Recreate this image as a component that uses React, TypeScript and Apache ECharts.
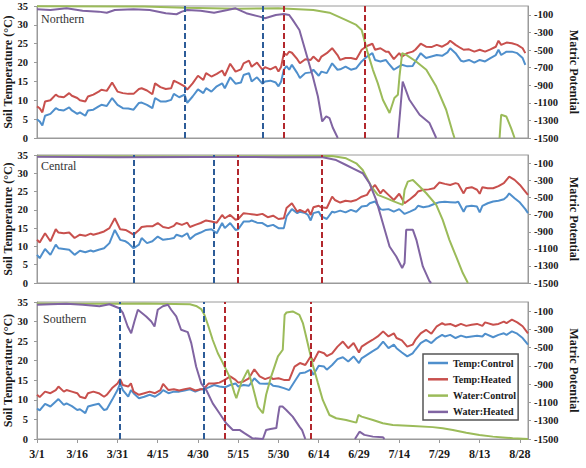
import { useEffect, useRef } from 'react';
import * as echarts from 'echarts';

// ---- axis ticks ----
const xTickDays = [0, 15, 30, 45, 60, 75, 90, 105, 120, 135, 150, 165, 180];
const xTickLabels = ['3/1', '3/16', '3/31', '4/15', '4/30', '5/15', '5/30', '6/14', '6/29', '7/14', '7/29', '8/13', '8/28'];
const matricTicks = [-1500, -1300, -1100, -900, -700, -500, -300, -100];
const legendNames = ['Temp:Control', 'Temp:Heated', 'Water:Control', 'Water:Heated'];

// ---- Northern site ----
const northDays = [
  0, 1, 2, 3, 5, 7, 8, 10, 12, 13,
  15, 16, 18, 19, 21, 23, 24, 26, 28, 30,
  32, 34, 36, 38, 39, 41, 43, 44, 46, 48,
  50, 51, 53, 55, 56, 58, 60, 62, 63, 65,
  67, 69, 70, 72, 74, 76, 77, 79, 80, 82,
  84, 85, 87, 89, 90, 91, 92, 93, 94, 95,
  97, 98, 100, 102, 103, 105, 106, 108, 110, 112,
  113, 115, 117, 119, 121, 123, 125, 126, 128, 130,
  131, 133, 135, 136, 138, 140, 141, 143, 145, 147,
  149, 151, 153, 154, 156, 158, 159, 161, 163, 165,
  167, 169, 171, 172, 173, 175, 177, 179, 181, 182,
];
const northTempControl = [
  5.0, 4.4, 3.3, 5.9, 6.4, 7.9, 7.5, 7.3, 8.1, 7.3,
  6.4, 6.8, 5.9, 7.3, 7.5, 8.4, 8.8, 8.5, 10.6, 8.8,
  7.9, 7.8, 7.5, 9.3, 9.4, 8.8, 7.9, 10.6, 9.7, 9.7,
  10.1, 11.7, 10.8, 11.5, 9.3, 11.0, 12.9, 11.9, 13.2, 12.3,
  13.7, 14.5, 13.2, 16.1, 14.4, 14.7, 16.7, 17.2, 15.0, 16.1,
  14.4, 15.0, 15.2, 14.7, 13.7, 15.0, 18.1, 19.1, 18.1, 19.4,
  17.2, 15.9, 17.2, 17.4, 18.1, 16.5, 17.6, 17.2, 19.8, 18.1,
  18.2, 18.9, 18.1, 18.5, 20.3, 21.6, 22.5, 20.7, 20.3, 20.7,
  19.8, 18.1, 19.0, 19.4, 19.0, 19.1, 20.3, 22.5, 21.2, 21.6,
  22.0, 21.8, 22.7, 23.8, 22.5, 20.5, 20.3, 20.7, 20.0, 20.7,
  20.3, 21.2, 22.0, 23.4, 22.0, 22.9, 22.9, 22.5, 21.2, 19.4,
];
const northTempHeated = [
  8.4, 7.9, 6.8, 9.7, 10.0, 11.5, 11.0, 10.8, 11.9, 11.2,
  10.6, 10.0, 9.7, 11.0, 11.5, 12.3, 12.8, 12.5, 14.7, 12.3,
  11.9, 11.7, 11.7, 13.0, 13.2, 12.6, 11.6, 14.5, 13.5, 13.0,
  13.2, 15.2, 14.5, 13.7, 12.8, 14.5, 16.5, 15.4, 17.2, 16.3,
  17.0, 17.9, 16.5, 19.7, 17.6, 18.2, 19.8, 20.5, 18.9, 20.0,
  18.1, 18.8, 18.2, 18.9, 17.6, 18.9, 22.5, 22.0, 22.9, 22.6,
  20.9, 19.8, 20.9, 20.7, 21.6, 20.3, 21.6, 22.5, 23.8, 22.0,
  20.7, 21.2, 21.2, 20.9, 23.4, 24.4, 25.0, 23.4, 23.8, 22.9,
  22.9, 20.9, 22.5, 21.6, 22.5, 22.9, 23.4, 25.0, 24.2, 24.1,
  24.7, 24.2, 25.0, 25.8, 24.7, 23.8, 23.4, 23.5, 22.9, 23.4,
  22.9, 23.5, 24.2, 25.8, 24.7, 25.3, 25.1, 24.7, 23.8, 22.5,
];
// [day, matric potential]; null = below the axis range
const northWaterControl = [
  [0, -3], [40, -5], [55, -20], [75, -30], [90, -25], [103, -45], [109, -76], [115, -158],
  [119, -215], [121, -272], [122, -385], [123.3, -536], [125.2, -725], [127, -876],
  [128.9, -1066], [131.4, -1216], [133.2, -1046], [134.5, -1009], [135.1, -801],
  [136.1, -536], [137.6, -556], [141.3, -631], [145.1, -725], [148.8, -915],
  [152.5, -1179], [155, -1443], [155.6, -1500], [164, null], [172.4, -1500],
  [173, -1236], [174.9, -1255], [176.7, -1387], [178, -1500],
];
const northWaterHeated = [
  [0, -37], [5, -45], [11, -26], [17, -53], [23, -64], [26, -76], [29, -45], [36, -37],
  [42, -45], [48, -82], [52, -94], [54, -64], [56, -45], [61, -53], [66, -76], [71, -45],
  [74, -26], [78, -82], [83, -121], [85, -139], [89, -102], [92, -90], [94, -102],
  [95.3, -158], [97.8, -272], [100.3, -536], [102.8, -801], [104.7, -1028], [106.3, -1312],
  [107.8, -1255], [109, -1273], [110.3, -1387], [112.1, -1500], [120, null],
  [134.5, -1500], [136.3, -858], [138.8, -1066], [142.6, -1236], [146.3, -1330], [148.8, -1500],
];
const northControlMarks = [55, 84];
const northHeatedMarks = [92, 122];

// ---- Central site ----
const centralDays = [
  0, 1, 3, 5, 7, 8, 10, 12, 14, 16,
  18, 20, 21, 23, 25, 27, 29, 31, 33, 34,
  36, 38, 39, 41, 43, 45, 47, 49, 51, 52,
  54, 56, 57, 59, 61, 63, 65, 67, 69, 70,
  72, 74, 75, 77, 79, 80, 82, 84, 86, 88,
  90, 92, 93, 95, 97, 98, 100, 101, 102, 103,
  105, 106, 108, 110, 111, 113, 115, 117, 119, 121,
  123, 124, 126, 128, 129, 131, 133, 135, 137, 139,
  141, 142, 144, 146, 148, 150, 152, 154, 156, 157,
  159, 160, 162, 164, 165, 166, 168, 170, 172, 174,
  175, 176, 178, 180, 182, 183,
];
const centralTempControl = [
  7.7, 6.8, 9.3, 7.7, 10.5, 9.5, 9.3, 9.1, 7.7, 8.8,
  8.4, 8.9, 8.6, 9.1, 9.5, 10.9, 14.5, 11.8, 11.4, 10.9,
  9.5, 10.5, 12.3, 10.9, 11.4, 12.7, 11.8, 12.0, 12.3, 13.2,
  12.7, 13.6, 12.0, 13.2, 13.8, 14.5, 14.7, 13.6, 16.4, 15.0,
  16.4, 14.5, 14.7, 16.8, 16.8, 17.1, 16.5, 16.4, 15.5, 15.9,
  15.0, 15.0, 18.2, 20.2, 19.1, 19.5, 19.1, 18.6, 17.1, 19.1,
  19.5, 18.2, 17.5, 19.5, 19.3, 19.8, 19.3, 20.0, 19.5, 20.9,
  21.1, 21.8, 22.3, 20.2, 20.0, 20.2, 19.5, 20.2, 18.9, 19.5,
  20.2, 21.1, 20.7, 21.0, 21.6, 22.1, 22.2, 22.1, 22.0, 22.2,
  19.5, 20.9, 21.1, 20.9, 19.3, 21.1, 21.8, 22.3, 22.5, 22.9,
  23.5, 24.5, 23.2, 22.0, 20.2, 19.1,
];
const centralTempHeated = [
  11.8, 11.1, 13.6, 11.4, 14.7, 13.8, 13.6, 13.8, 12.3, 13.2,
  12.9, 13.5, 13.2, 13.6, 14.1, 15.0, 17.7, 14.7, 14.5, 14.1,
  13.2, 14.5, 15.3, 15.5, 15.5, 16.4, 15.3, 15.0, 15.6, 16.4,
  15.9, 16.5, 15.3, 15.9, 16.4, 17.1, 16.8, 16.5, 18.6, 17.7,
  18.6, 17.3, 17.5, 19.1, 18.9, 18.8, 18.6, 18.9, 18.0, 18.4,
  17.5, 17.7, 20.5, 21.8, 19.5, 20.0, 19.3, 20.2, 18.6, 20.7,
  21.1, 20.7, 20.5, 23.6, 22.7, 22.0, 22.5, 22.3, 22.7, 23.6,
  24.1, 25.3, 26.8, 24.5, 25.5, 24.1, 22.7, 24.4, 21.8, 22.9,
  24.1, 25.0, 25.5, 25.6, 25.9, 27.5, 27.1, 26.8, 27.3, 27.1,
  24.5, 25.9, 26.2, 25.5, 24.4, 26.2, 25.9, 25.9, 26.5, 27.3,
  28.2, 29.1, 28.2, 26.8, 25.0, 24.1,
];
const centralWaterControl = [
  [0, -15], [30, -15], [60, -18], [90, -15], [110, -12], [115.2, -39], [119, -97],
  [121.4, -175], [124.6, -370], [127, -468], [130.1, -506], [133.2, -546], [136.3, -585],
  [137, -409], [138.2, -312], [140.1, -292], [142.6, -370], [145.1, -448], [148.8, -585],
  [151.2, -760], [153.7, -994], [156.2, -1189], [158.7, -1383], [160.6, -1500],
];
const centralWaterHeated = [
  [0, -20], [30, -25], [60, -22], [90, -25], [106.5, -27], [111.5, -59], [115.2, -117],
  [117.7, -156], [121.4, -214], [123.9, -331], [126.4, -526], [128.9, -799], [131.4, -1072],
  [133.9, -1189], [136.1, -1325], [137, -1266], [137.6, -877], [140.1, -877], [141.4, -994],
  [143.8, -1306], [146.3, -1480], [146.9, -1500],
];
const centralControlMarks = [36, 66];
const centralHeatedMarks = [75, 106];

// ---- Southern site ----
const southDays = [
  0, 1, 3, 5, 7, 8, 10, 11, 13, 15,
  16, 18, 19, 21, 23, 25, 26, 28, 30, 31,
  32, 34, 35, 36, 38, 40, 42, 44, 46, 47,
  49, 51, 53, 55, 57, 59, 61, 62, 64, 66,
  68, 70, 72, 74, 75, 77, 79, 81, 83, 85,
  87, 88, 90, 92, 94, 96, 98, 100, 102, 103,
  105, 107, 108, 110, 112, 114, 116, 118, 120, 121,
  123, 125, 127, 129, 131, 133, 134, 136, 138, 140,
  141, 143, 145, 147, 149, 151, 152, 154, 156, 158,
  160, 162, 164, 166, 167, 170, 172, 174, 175, 177,
  179, 181, 183,
];
const southTempControl = [
  7.8, 7.3, 9.0, 8.3, 9.6, 10.2, 8.7, 9.1, 8.4, 7.4,
  7.6, 6.6, 8.3, 8.7, 9.0, 7.4, 7.6, 10.0, 12.5, 14.2,
  12.5, 10.8, 12.5, 11.7, 10.4, 10.8, 11.3, 10.8, 11.7, 12.5,
  11.7, 12.1, 12.1, 12.4, 12.7, 12.1, 12.7, 12.7, 13.2, 13.8,
  13.4, 13.2, 13.8, 14.2, 13.4, 13.8, 13.6, 15.5, 14.2, 14.1,
  14.2, 13.6, 13.4, 13.0, 12.5, 14.7, 16.8, 17.0, 17.7, 16.4,
  18.7, 18.5, 17.7, 18.9, 20.4, 20.9, 19.8, 21.1, 19.4, 20.6,
  21.5, 22.4, 23.2, 24.9, 23.2, 24.1, 23.2, 22.1, 21.1, 21.9,
  22.8, 24.5, 25.3, 24.5, 25.8, 26.6, 26.2, 26.6, 25.8, 26.4,
  26.0, 26.2, 26.4, 26.2, 26.9, 26.0, 26.6, 27.0, 26.6, 27.5,
  26.9, 25.8, 24.1,
];
const southTempHeated = [
  11.3, 10.7, 12.1, 11.7, 12.5, 13.4, 12.1, 12.5, 12.1, 11.7,
  10.8, 10.4, 11.7, 12.1, 11.7, 10.8, 11.3, 13.0, 14.2, 15.3,
  13.8, 13.4, 14.2, 12.1, 11.3, 11.7, 12.1, 11.7, 12.5, 14.1,
  12.5, 12.7, 12.4, 12.7, 13.0, 12.4, 12.7, 12.7, 14.2, 14.2,
  14.4, 15.1, 16.0, 15.1, 14.4, 14.7, 15.5, 17.8, 16.0, 15.3,
  15.8, 15.3, 15.5, 15.1, 15.1, 18.5, 19.4, 18.9, 21.1, 19.8,
  22.4, 21.9, 21.2, 21.9, 23.6, 24.9, 23.2, 24.5, 22.1, 23.6,
  24.5, 25.3, 26.2, 27.5, 26.2, 27.0, 25.8, 25.2, 23.6, 24.1,
  25.3, 27.0, 27.9, 26.9, 28.8, 29.6, 29.2, 29.4, 28.8, 29.4,
  28.9, 29.2, 29.4, 28.9, 29.8, 29.2, 29.4, 30.0, 29.6, 30.5,
  29.8, 28.8, 27.0,
];
const southWaterControl = [
  [0, -17], [20, -20], [40, -17], [57, -25], [59.3, -43], [61.2, -77], [62.4, -141],
  [63.7, -249], [65.5, -416], [67.4, -561], [69.3, -669], [71.7, -814], [73.6, -998],
  [74.3, -1054], [76.1, -887], [78.6, -743], [80.4, -926], [82.3, -1145], [84.2, -1218],
  [85.4, -1016], [87.3, -814], [89.8, -596], [91.6, -523], [92.3, -140], [93, -115],
  [95.3, -103], [97.8, -141], [99.1, -231], [100.3, -377], [101.6, -541], [102.8, -689],
  [104.7, -888], [106.5, -1072], [109, -1237], [111.5, -1273], [115.2, -1292], [119, -1321],
  [119.8, -1237], [121, -1255], [125.2, -1292], [128.9, -1328], [132.6, -1346], [140.1, -1357],
  [147.5, -1370], [151.2, -1383], [155, -1401], [160, -1431], [164.9, -1456], [169.9, -1474],
  [174.9, -1486], [177.3, -1492], [183, -1500],
];
const southWaterHeated = [
  [0, -30], [5, -25], [10.9, -19], [17.1, -30], [23.3, -47], [27, -25], [30.7, -68], [32, -120],
  [33.8, -268], [35.1, -343], [36.3, -214], [37.6, -85], [40.7, -158], [42.6, -214],
  [43.8, -268], [45, -85], [46.9, -47], [48.8, -30], [50, -85], [51.9, -158], [53.7, -304],
  [56.2, -330], [57.5, -450], [59.3, -707], [61.2, -890], [63.1, -964], [65.5, -1110],
  [68, -1218], [70.5, -1328], [73, -1401], [75.5, -1401], [77.3, -1436], [80.2, -1491],
  [84.2, -1500], [85.4, -1401], [87, -1390], [89.2, -1380], [89.8, -1255], [90.4, -1145],
  [91.5, -1145], [92.9, -1183], [95.3, -1255], [97.8, -1364], [98.8, -1403], [100, -1500],
  [110, null], [118.5, -1500], [120.2, -1420], [122, -1455], [125.2, -1474], [128.9, -1480],
  [129.5, -1500],
];
const southControlMarks = [31, 62];
const southHeatedMarks = [70, 102];

const FONT = "'Liberation Serif', 'Times New Roman', serif";
const COLORS = {
  tempControl: '#4F8FCC',
  tempHeated: '#C8504D',
  waterControl: '#9BBB59',
  waterHeated: '#8064A2',
  markControl: '#2D5C98',
  markHeated: '#B2282D',
  axis: '#9a9a9a',
  text: '#1a1a1a',
};

const panels = [
  {
    label: 'Northern', days: northDays, control: northTempControl, heated: northTempHeated,
    waterControl: northWaterControl, waterHeated: northWaterHeated,
    controlMarks: northControlMarks, heatedMarks: northHeatedMarks,
  },
  {
    label: 'Central', days: centralDays, control: centralTempControl, heated: centralTempHeated,
    waterControl: centralWaterControl, waterHeated: centralWaterHeated,
    controlMarks: centralControlMarks, heatedMarks: centralHeatedMarks,
  },
  {
    label: 'Southern', days: southDays, control: southTempControl, heated: southTempHeated,
    waterControl: southWaterControl, waterHeated: southWaterHeated,
    controlMarks: southControlMarks, heatedMarks: southHeatedMarks,
  },
];

const gridBoxes = [
  { top: 6, height: 132, labelX: 41, labelY: 19 },
  { top: 155, height: 128, labelX: 41, labelY: 166 },
  { top: 302, height: 137, labelX: 43, labelY: 319 },
];

const pairs = (days: number[], vals: number[]) => days.map((d, i) => [d, vals[i]]);

function buildOption() {
  const grid = gridBoxes.map((b) => ({
    left: 37,
    width: 491,
    top: b.top,
    height: b.height,
    containLabel: false,
    outerBoundsMode: 'none',
    show: true,
    borderColor: COLORS.axis,
    borderWidth: 1,
    backgroundColor: 'transparent',
  }));

  const xAxis = gridBoxes.map((_, i) => ({
    type: 'value',
    gridIndex: i,
    min: 0,
    max: 183,
    axisLine: { show: true, onZero: false, lineStyle: { color: COLORS.axis, width: 1 } },
    axisTick: { show: i === 2, customValues: xTickDays, length: 4, lineStyle: { color: COLORS.axis } },
    axisLabel: {
      show: i === 2,
      customValues: xTickDays,
      formatter: (v: number) => xTickLabels[xTickDays.indexOf(v)] ?? '',
      fontFamily: FONT,
      fontWeight: 'bold',
      fontSize: 12,
      color: COLORS.text,
      margin: 9,
    },
    splitLine: { show: false },
  }));

  const yAxis: any[] = [];
  gridBoxes.forEach((_, i) => {
    yAxis.push({
      type: 'value',
      gridIndex: i,
      position: 'left',
      min: 0,
      max: 35,
      interval: 5,
      name: 'Soil Temperature (°C)',
      nameLocation: 'middle',
      nameRotate: 90,
      nameGap: 23,
      nameMoveOverlap: false,
      nameTextStyle: { fontFamily: FONT, fontWeight: 'bold', fontSize: 12, color: COLORS.text },
      axisLine: { show: true, lineStyle: { color: COLORS.axis } },
      axisTick: { show: true, length: 3, lineStyle: { color: COLORS.axis } },
      axisLabel: { fontFamily: FONT, fontWeight: 'bold', fontSize: 10.5, color: COLORS.text, margin: 9 },
      splitLine: { show: false },
    });
    yAxis.push({
      type: 'value',
      gridIndex: i,
      position: 'right',
      min: -1500,
      max: 0,
      name: 'Matric Potential',
      nameLocation: 'middle',
      nameRotate: -90,
      nameGap: 40,
      nameMoveOverlap: false,
      nameTextStyle: { fontFamily: FONT, fontWeight: 'bold', fontSize: 12, color: COLORS.text },
      axisLine: { show: true, lineStyle: { color: COLORS.axis } },
      axisTick: { show: true, length: 3, customValues: matricTicks, lineStyle: { color: COLORS.axis } },
      axisLabel: {
        customValues: matricTicks,
        formatter: (v: number) => String(v),
        fontFamily: FONT,
        fontWeight: 'bold',
        fontSize: 10.5,
        color: COLORS.text,
        margin: 6,
      },
      splitLine: { show: false },
    });
  });

  const series: any[] = [];
  panels.forEach((p, i) => {
    const base = { type: 'line', xAxisIndex: i, showSymbol: false, symbol: 'none', silent: true };
    series.push({
      ...base,
      name: 'Temp:Control',
      yAxisIndex: 2 * i,
      data: pairs(p.days, p.control),
      lineStyle: { width: 2, color: COLORS.tempControl },
      itemStyle: { color: COLORS.tempControl },
      markLine: {
        silent: true,
        symbol: ['none', 'none'],
        label: { show: false },
        animation: false,
        data: [
          ...p.controlMarks.map((d) => ({ xAxis: d, lineStyle: { color: COLORS.markControl, width: 2, type: [6, 3] } })),
          ...p.heatedMarks.map((d) => ({ xAxis: d, lineStyle: { color: COLORS.markHeated, width: 2, type: [6, 3] } })),
        ],
      },
    });
    series.push({
      ...base,
      name: 'Temp:Heated',
      yAxisIndex: 2 * i,
      data: pairs(p.days, p.heated),
      lineStyle: { width: 2, color: COLORS.tempHeated },
      itemStyle: { color: COLORS.tempHeated },
    });
    series.push({
      ...base,
      name: 'Water:Control',
      yAxisIndex: 2 * i + 1,
      data: p.waterControl,
      lineStyle: { width: 2, color: COLORS.waterControl },
      itemStyle: { color: COLORS.waterControl },
    });
    series.push({
      ...base,
      name: 'Water:Heated',
      yAxisIndex: 2 * i + 1,
      data: p.waterHeated,
      lineStyle: { width: 2, color: COLORS.waterHeated },
      itemStyle: { color: COLORS.waterHeated },
    });
  });

  const graphic = panels.map((p, i) => ({
    type: 'text',
    x: gridBoxes[i].labelX,
    y: gridBoxes[i].labelY,
    silent: true,
    style: {
      text: p.label,
      font: `12px ${FONT}`,
      fill: '#333',
      verticalAlign: 'middle',
    },
  }));

  return {
    animation: false,
    backgroundColor: '#ffffff',
    textStyle: { fontFamily: FONT },
    grid,
    xAxis,
    yAxis,
    series,
    graphic,
    legend: {
      data: legendNames,
      orient: 'vertical',
      left: 423,
      top: 354,
      icon: 'rect',
      itemWidth: 20,
      itemHeight: 2.5,
      itemGap: 2.3,
      padding: [2, 2, 1, 5],
      backgroundColor: '#ffffff',
      borderColor: '#555555',
      borderWidth: 1.5,
      borderRadius: 0,
      selectedMode: false,
      textStyle: { fontFamily: FONT, fontWeight: 'bold', fontSize: 10, color: COLORS.text, lineHeight: 14 },
    },
  };
}

export default function App() {
  const ref = useRef<HTMLDivElement>(null);
  useEffect(() => {
    if (!ref.current) return;
    const chart = echarts.init(ref.current, undefined, { renderer: 'svg' });
    chart.setOption(buildOption() as any);
    return () => chart.dispose();
  }, []);
  return (
    <div
      ref={ref}
      style={{ position: 'fixed', left: 0, top: 0, width: 586, height: 468, background: '#fff' }}
    />
  );
}
